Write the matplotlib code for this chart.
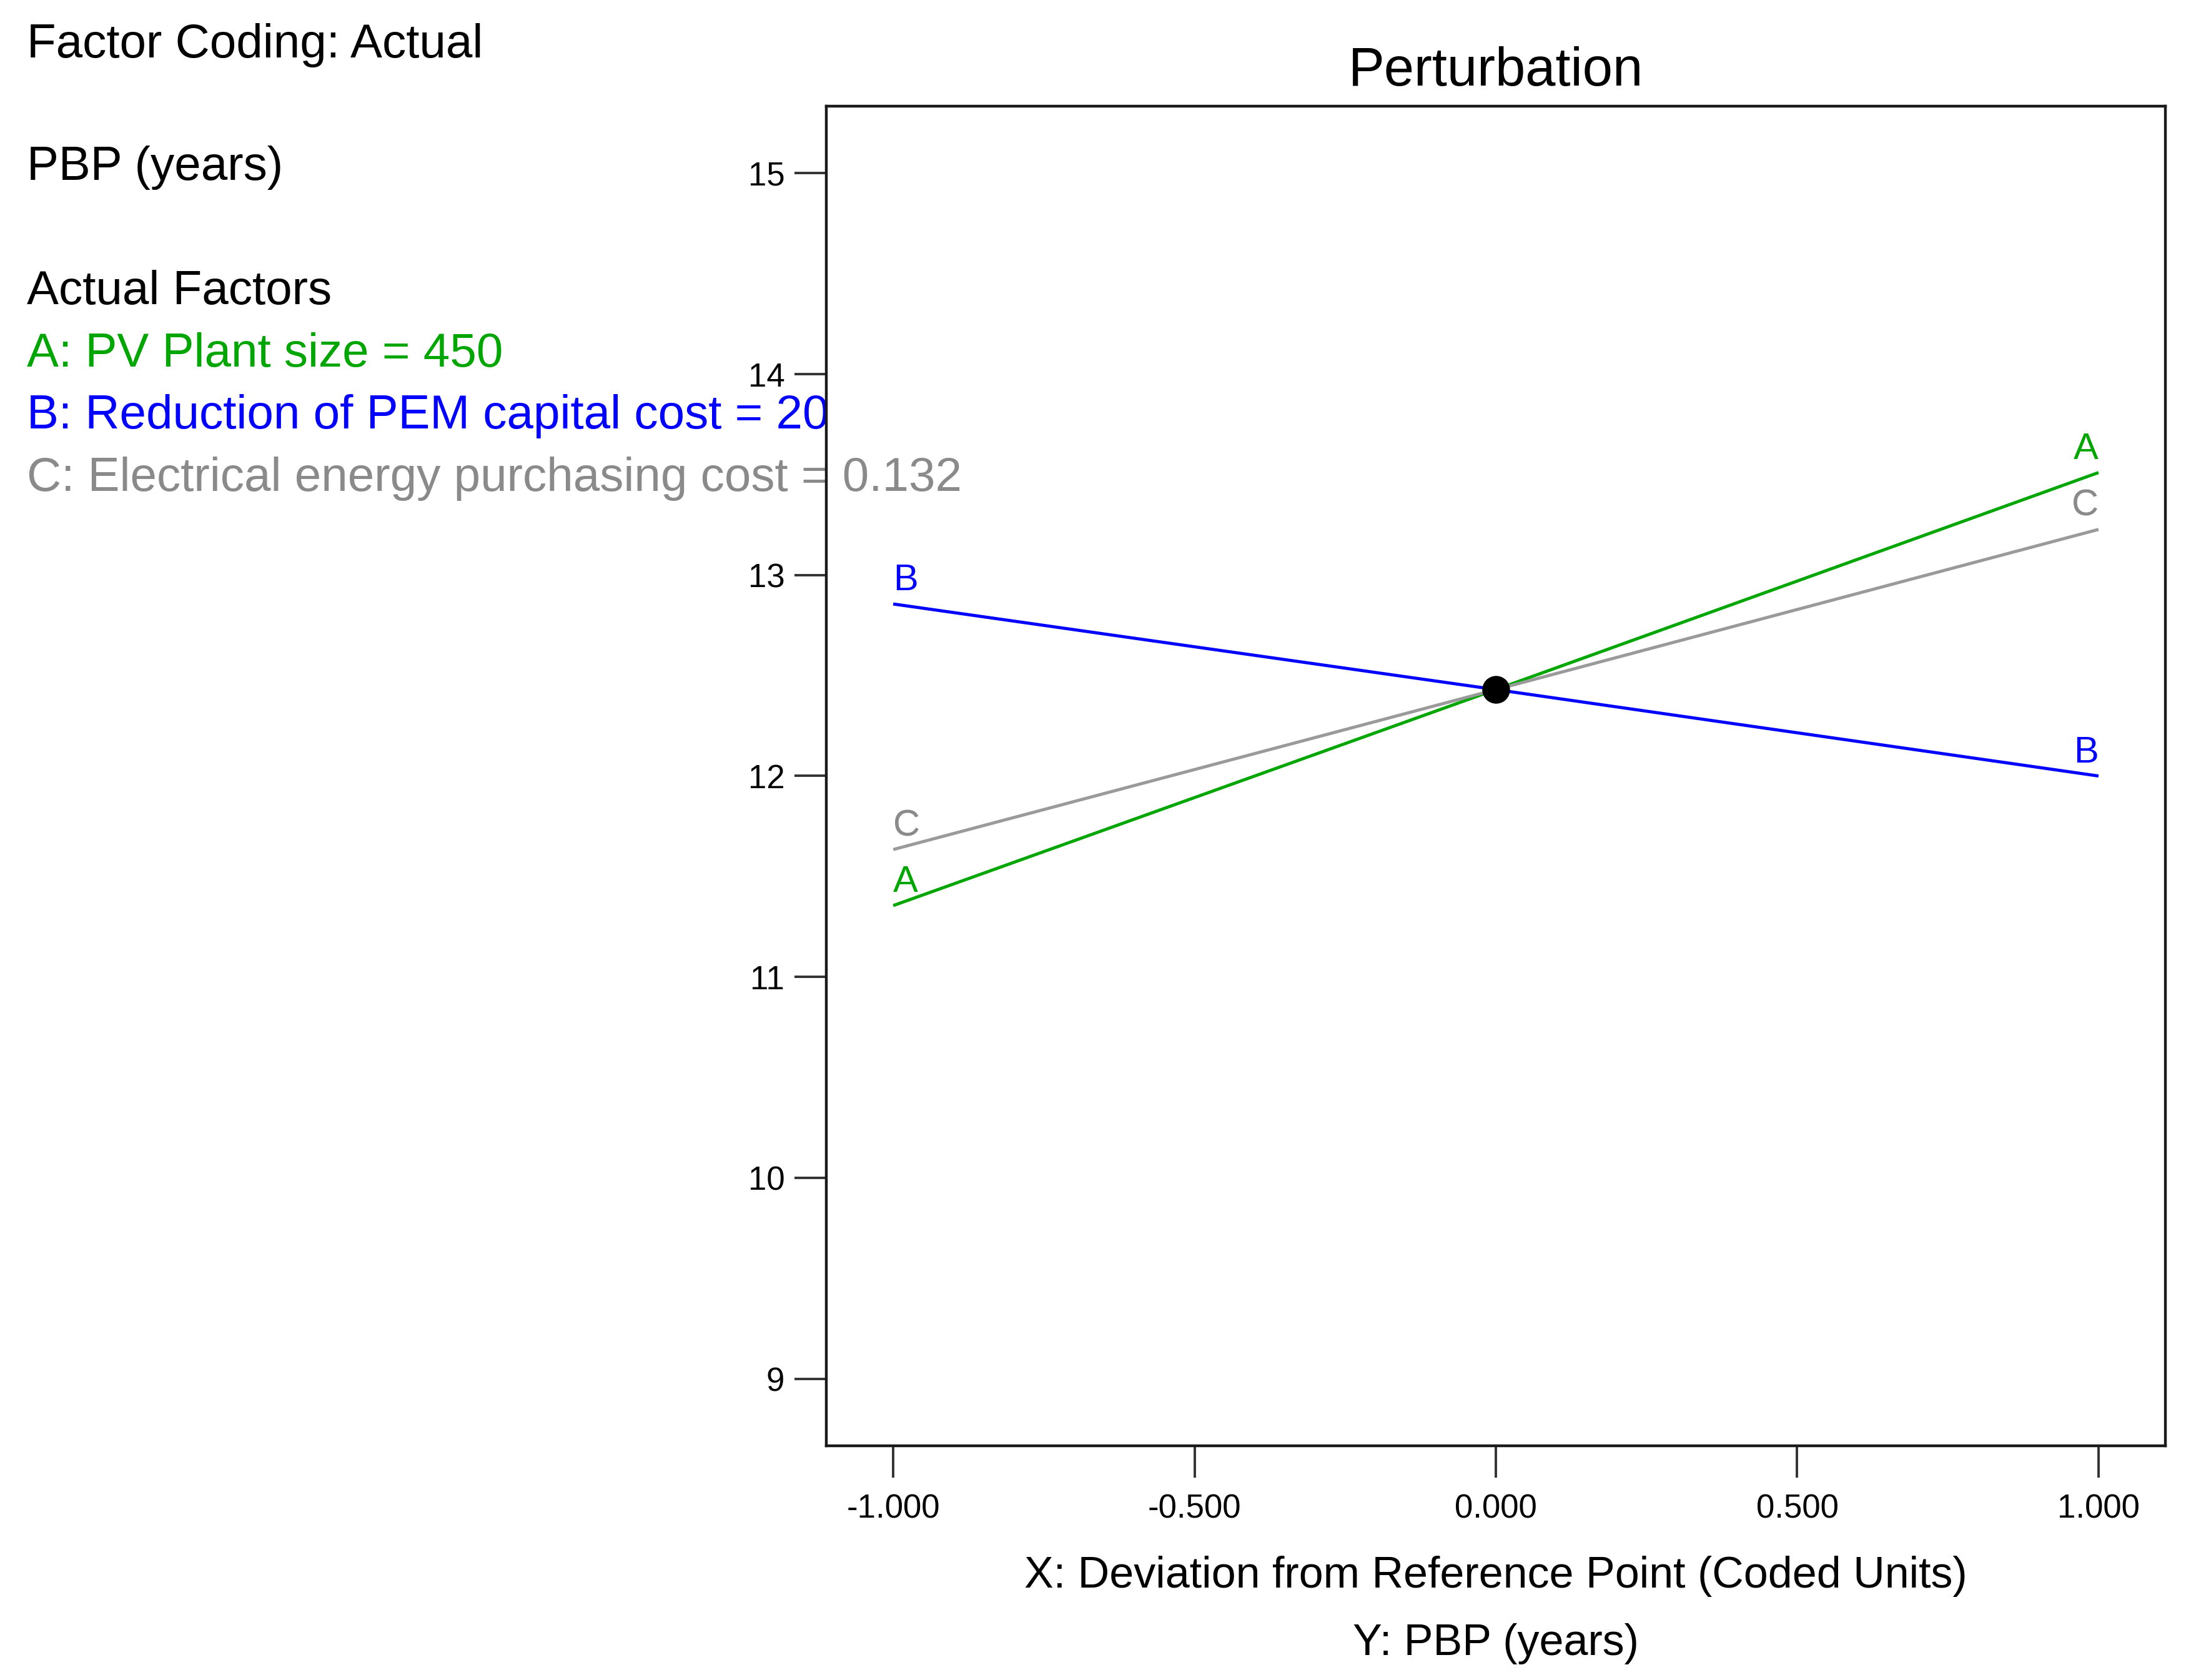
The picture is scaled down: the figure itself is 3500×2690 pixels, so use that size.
import matplotlib
matplotlib.use("Agg")
import matplotlib.pyplot as plt

plt.rcParams['font.family'] = ['Liberation Sans', 'DejaVu Sans']

# ---- data ----
x_coded = [-1.0, 0.0, 1.0]
factor_names = ["A", "B", "C"]
pbp_A = [11.355, 12.43, 13.51]
pbp_B = [12.856, 12.43, 12.00]
pbp_C = [11.634, 12.43, 13.227]
ref_x = [0.0]
ref_y = [12.43]
x_ticks = [-1.0, -0.5, 0.0, 0.5, 1.0]
x_tick_labels = ["-1.000", "-0.500", "0.000", "0.500", "1.000"]
y_ticks = [9, 10, 11, 12, 13, 14, 15]
y_tick_labels = ["9", "10", "11", "12", "13", "14", "15"]

GREEN = "#00A600"
BLUE = "#0000FF"
GREY_T = "#8A8A8A"
GREY_L = "#9A9A9A"

W, H = 3500, 2690
fig = plt.figure(figsize=(W / 100, H / 100), dpi=100)
fig.patch.set_facecolor("white")

ax_l, ax_r, ax_t, ax_b = 1323, 3467, 170, 2315
ax = fig.add_axes([ax_l / W, 1 - ax_b / H, (ax_r - ax_l) / W, (ax_b - ax_t) / H])

series = [(pbp_A, GREEN), (pbp_B, BLUE), (pbp_C, GREY_L)]
for name, (vals, col) in zip(factor_names, series):
    ax.plot(x_coded, vals, color=col, lw=3.6, solid_capstyle="butt", zorder=3)
    tcol = GREY_T if col == GREY_L else col
    ax.annotate(name, xy=(x_coded[0], vals[0]), xytext=(0, 7), textcoords="offset points",
                ha="left", va="bottom", fontsize=43, color=tcol, zorder=4)
    ax.annotate(name, xy=(x_coded[-1], vals[-1]), xytext=(0, 7), textcoords="offset points",
                ha="right", va="bottom", fontsize=43, color=tcol, zorder=4)

ax.plot(ref_x, ref_y, "o", color="black", markersize=31, zorder=5)

ax.set_xlim(-1.111, 1.111)
ax.set_ylim(9 - 1 / 3, 15 + 1 / 3)
ax.set_xticks(x_ticks)
ax.set_xticklabels(x_tick_labels)
ax.set_yticks(y_ticks)
ax.set_yticklabels(y_tick_labels)
ax.tick_params(axis="both", direction="out", length=37, width=2.8, color="#333333",
               labelsize=38)
ax.tick_params(axis="x", pad=18)
ax.tick_params(axis="y", pad=11)
for sp in ax.spines.values():
    sp.set_linewidth(3.2)
    sp.set_color("#1a1a1a")

ax.set_title("Perturbation", fontsize=62.5, pad=24)

cx = ((ax_l + ax_r) / 2) / W
fig.text(cx, 1 - 2542 / H, "X: Deviation from Reference Point (Coded Units)",
         ha="center", va="baseline", fontsize=50.4)
fig.text(cx, 1 - 2650 / H, "Y: PBP (years)", ha="center", va="baseline", fontsize=50.4)

# ---- left side info text ----
lx = 43 / W
fs = 55
fig.text(lx, 1 - 92 / H, "Factor Coding: Actual", fontsize=fs, va="baseline")
fig.text(lx, 1 - 288 / H, "PBP (years)", fontsize=fs, va="baseline")
fig.text(lx, 1 - 487 / H, "Actual Factors", fontsize=fs, va="baseline")
fig.text(lx, 1 - 587 / H, "A: PV Plant size = 450", fontsize=fs, va="baseline", color=GREEN)
fig.text(lx, 1 - 686 / H, "B: Reduction of PEM capital cost = 20", fontsize=fs,
         va="baseline", color=BLUE, zorder=-1)
ax.text(lx, 1 - 786 / H, "C: Electrical energy purchasing cost = 0.132", fontsize=fs,
        va="baseline", color=GREY_T, transform=fig.transFigure, clip_on=False, zorder=1)

fig.savefig("out.png", dpi=100, facecolor="white")
